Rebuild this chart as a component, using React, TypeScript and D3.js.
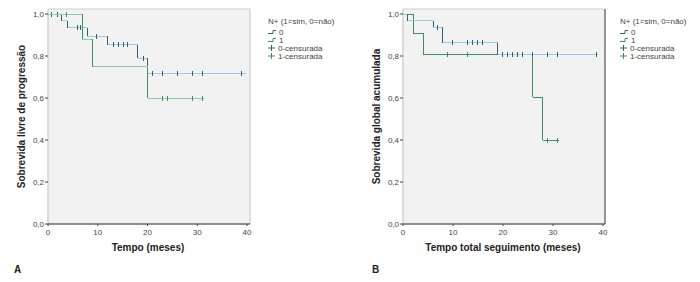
import React from "react";
import * as d3 from "d3";

// ---------- DATA ----------
// Panel A: progression-free survival
const pfsEventTimes0 = [2.8, 3.9, 7.9, 12.0, 18.0, 20.0];
const pfsSurvival0 = [0.968, 0.934, 0.895, 0.853, 0.79, 0.719];
const pfsCensor0 = [0.8, 2.0, 5.9, 6.6, 9.8, 13.2, 14.2, 15.1, 16.0, 19.1, 21.0, 23.0, 26.0, 29.1, 31.1, 38.9];
const pfsEnd0 = 39.8;
const pfsEventTimes1 = [6.9, 8.9, 20.0];
const pfsSurvival1 = [0.88, 0.75, 0.6];
const pfsCensor1 = [3.8, 23.0, 24.0, 29.1, 31.1];
const pfsEnd1 = 31.4;

// Panel B: overall survival
const osEventTimes0 = [0.9, 6.0, 7.9, 18.9];
const osSurvival0 = [0.968, 0.937, 0.864, 0.808];
const osCensor0 = [6.9, 9.9, 12.9, 13.9, 14.9, 15.9, 19.9, 20.9, 21.9, 22.9, 23.9, 25.9, 28.9, 30.9, 38.7];
const osEnd0 = 38.9;
const osEventTimes1 = [2.0, 4.0, 25.9, 27.9];
const osSurvival1 = [0.908, 0.808, 0.603, 0.4];
const osCensor1 = [8.9, 12.9, 28.9, 30.9];
const osEnd1 = 31.1;

const xTicks = [0, 10, 20, 30, 40];
const yTicks = [0, 0.2, 0.4, 0.6, 0.8, 1.0];
const legendTitle = "N+ (1=sim, 0=não)";
const legendLabels = ["0", "1", "0-censurada", "1-censurada"];

// ---------- STYLE ----------
const FONT = "'Liberation Sans', Arial, Helvetica, sans-serif";
const C0_LIGHT = "#93cde3";
const C0_DARK = "#2f5f82";
const C1_LIGHT = "#86d2a2";
const C1_DARK = "#3b9160";

const ptLocale = d3.formatLocale({ decimal: ",", thousands: ".", grouping: [3], currency: ["", ""] });
const fmt = ptLocale.format(".1f");

type Group = { times: number[]; surv: number[]; censor: number[]; end: number; light: string; dark: string };

function stepSegments(g: Group) {
  const h: [number, number, number][] = [];
  const v: [number, number, number][] = [];
  let t = 0;
  let s = 1;
  g.times.forEach((et, i) => {
    h.push([t, et, s]);
    v.push([et, s, g.surv[i]]);
    t = et;
    s = g.surv[i];
  });
  h.push([t, g.end, s]);
  return { h, v };
}

function survAt(g: Group, time: number) {
  let s = 1;
  g.times.forEach((et, i) => {
    if (et <= time) s = g.surv[i];
  });
  return s;
}

type PanelProps = {
  x0: number;
  x40: number;
  right: number;
  groups: Group[];
  yTitle: string;
  xTitle: string;
  letter: string;
  letterX: number;
  legendX: number;
  rightColor: string;
};

function Panel({ x0, x40, right, groups, yTitle, xTitle, letter, letterX, legendX, rightColor }: PanelProps) {
  const top = 9;
  const bottom = 224;
  const x = d3.scaleLinear().domain([0, 40]).range([x0, x40]);
  const y = d3.scaleLinear().domain([0, 1]).range([224, 14]);
  const cx = (x0 + right) / 2;

  return (
    <g>
      <rect x={x0} y={top} width={right - x0} height={bottom - top} fill="#f2f2f2" stroke="none" />
      <line x1={x0} x2={right} y1={top} y2={top} stroke="#cfcfcf" />
      <line x1={x0} x2={x0} y1={top} y2={bottom} stroke="#bdbdbd" />
      <line x1={right} x2={right} y1={top} y2={bottom} stroke={rightColor} />
      <line x1={x0} x2={right} y1={bottom} y2={bottom} stroke="#222" strokeWidth={1.2} />

      {yTicks.map((t) => (
        <g key={"y" + t}>
          <line x1={x0 - 3} x2={x0} y1={y(t)} y2={y(t)} stroke="#444" />
          <text x={x0 - 4} y={y(t)} dy="0.33em" textAnchor="end" fontSize={8} fill="#444" fontFamily={FONT}>
            {fmt(t)}
          </text>
        </g>
      ))}
      {xTicks.map((t) => (
        <g key={"x" + t}>
          <line x1={x(t)} x2={x(t)} y1={bottom} y2={bottom + 2} stroke="#444" />
          <text x={x(t)} y={232} dy="0.33em" textAnchor="middle" fontSize={8} fill="#444" fontFamily={FONT}>
            {t}
          </text>
        </g>
      ))}

      {groups.map((g, gi) => {
        const { h, v } = stepSegments(g);
        return (
          <g key={"g" + gi} shapeRendering="crispEdges">
            {h.map((s, i) => (
              <line key={"h" + i} x1={x(s[0])} x2={x(s[1])} y1={y(s[2])} y2={y(s[2])} stroke={g.light} strokeWidth={1} />
            ))}
            {v.map((s, i) => (
              <line key={"v" + i} x1={x(s[0])} x2={x(s[0])} y1={y(s[1])} y2={y(s[2])} stroke={g.dark} strokeWidth={1} />
            ))}
            {g.censor.map((c, i) => (
              <line key={"c" + i} x1={x(c)} x2={x(c)} y1={y(survAt(g, c)) - 2.5} y2={y(survAt(g, c)) + 2.5} stroke={g.dark} strokeWidth={1} />
            ))}
          </g>
        );
      })}

      <text x={cx - 1} y={247} dy="0.35em" textAnchor="middle" fontSize={10} fontWeight="bold" fill="#222" fontFamily={FONT}>
        {xTitle}
      </text>
      <text
        transform={`translate(${x0 - 27},${(top + bottom) / 2}) rotate(-90)`}
        textAnchor="middle"
        dy="0.35em"
        fontSize={10}
        fontWeight="bold"
        fill="#222"
        fontFamily={FONT}
      >
        {yTitle}
      </text>
      <text x={letterX} y={269} dy="0.35em" fontSize={10} fontWeight="bold" fill="#222" fontFamily={FONT}>
        {letter}
      </text>

      <g fontFamily={FONT} fontSize={8} fill="#444">
        <text x={legendX} y={21} dy="0.35em">
          {legendTitle}
        </text>
        {legendLabels.map((lab, i) => {
          const ly = 32 + i * 8;
          const col = i % 2 === 0 ? C0_DARK : C1_DARK;
          const isStep = i < 2;
          return (
            <g key={"l" + i}>
              {isStep ? (
                <path d={`M${legendX},${ly + 1.5}H${legendX + 5}V${ly - 1.5}H${legendX + 8}`} fill="none" stroke={col} />
              ) : (
                <g stroke={col}>
                  <line x1={legendX} x2={legendX + 7} y1={ly} y2={ly} />
                  <line x1={legendX + 3.5} x2={legendX + 3.5} y1={ly - 3} y2={ly + 3} />
                </g>
              )}
              <text x={legendX + (isStep ? 11 : 10)} y={ly} dy="0.35em">
                {lab}
              </text>
            </g>
          );
        })}
      </g>
    </g>
  );
}

export default function App() {
  const pfsGroups: Group[] = [
    { times: pfsEventTimes0, surv: pfsSurvival0, censor: pfsCensor0, end: pfsEnd0, light: C0_LIGHT, dark: C0_DARK },
    { times: pfsEventTimes1, surv: pfsSurvival1, censor: pfsCensor1, end: pfsEnd1, light: C1_LIGHT, dark: C1_DARK },
  ];
  const osGroups: Group[] = [
    { times: osEventTimes1, surv: osSurvival1, censor: osCensor1, end: osEnd1, light: C1_DARK, dark: C1_DARK },
    { times: osEventTimes0, surv: osSurvival0, censor: osCensor0, end: osEnd0, light: C0_LIGHT, dark: C0_DARK },
  ];
  return (
    <svg
      width={700}
      height={282}
      style={{ position: "fixed", left: 0, top: 0, background: "#fff" }}
      xmlns="http://www.w3.org/2000/svg"
    >
      <rect width={700} height={282} fill="#fff" />
      <Panel
        x0={48}
        x40={247}
        right={250}
        groups={pfsGroups}
        yTitle="Sobrevida livre de progressão"
        xTitle="Tempo (meses)"
        letter="A"
        letterX={14}
        legendX={268}
        rightColor="#c8c8c8"
      />
      <Panel
        x0={403}
        x40={603}
        right={605}
        groups={osGroups}
        yTitle="Sobrevida global acumulada"
        xTitle="Tempo total seguimento (meses)"
        letter="B"
        letterX={372}
        legendX={620}
        rightColor="#333"
      />
    </svg>
  );
}
